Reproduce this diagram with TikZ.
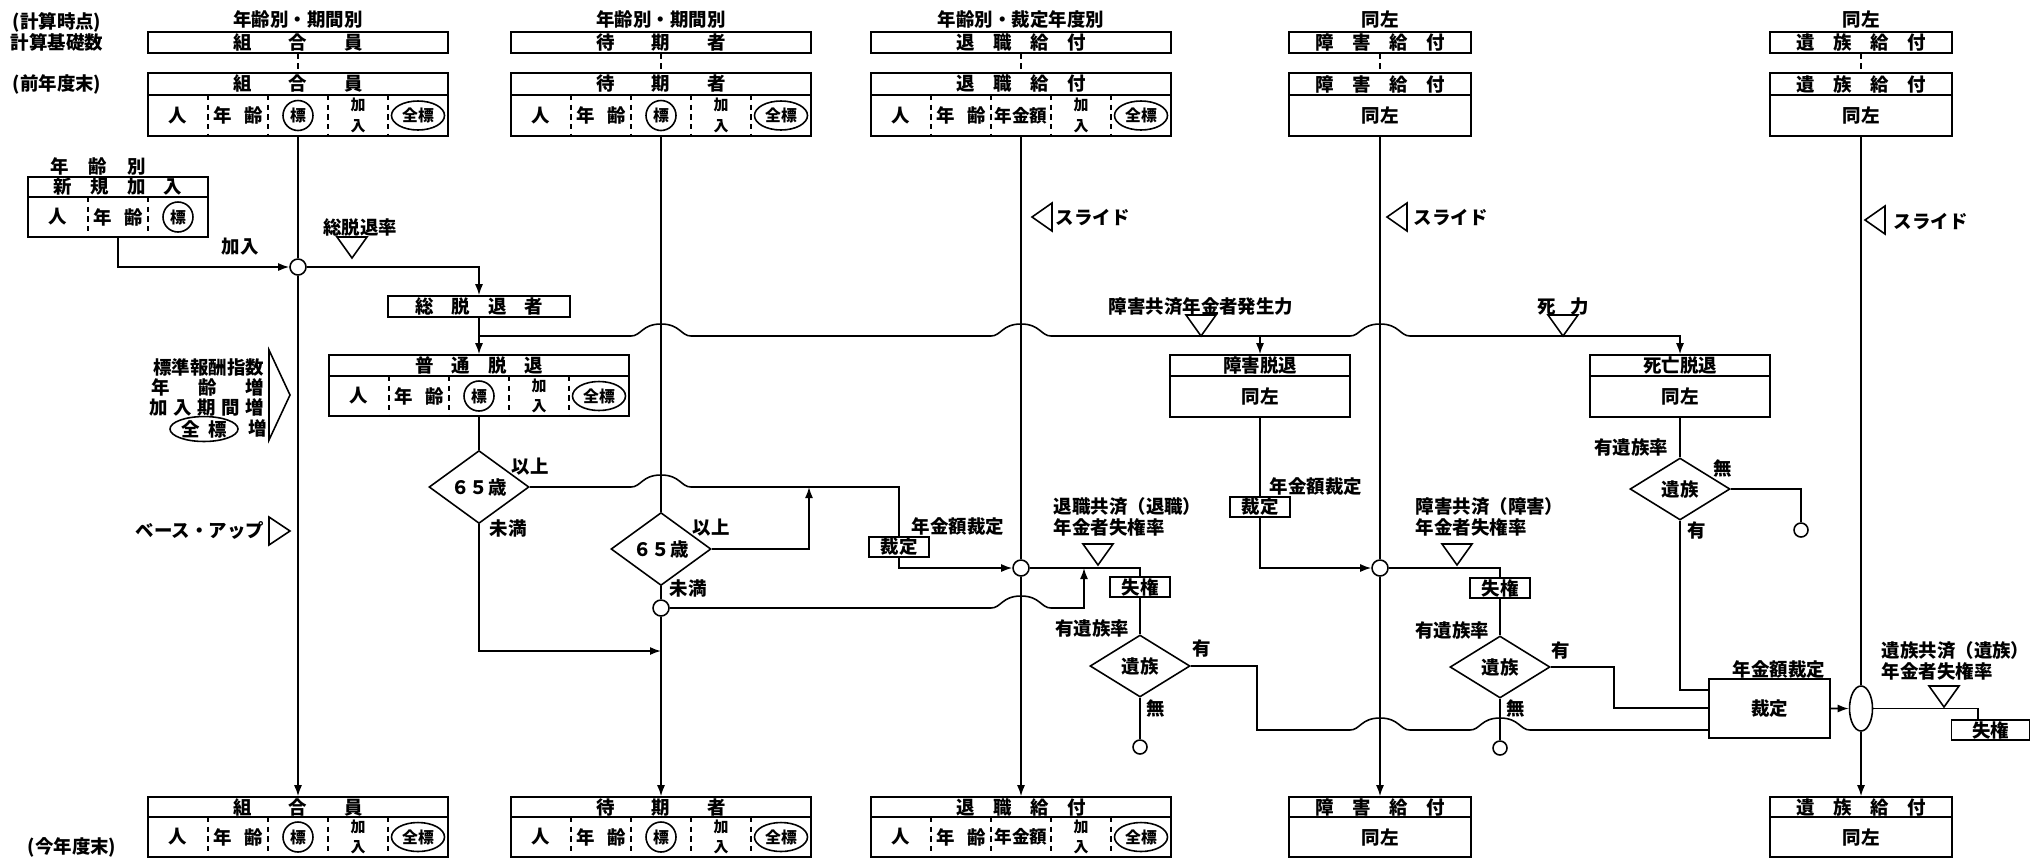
\documentclass[tikz,border=0pt]{standalone}
\usepackage{fontspec}
\setmainfont{Noto Sans CJK JP}
\usetikzlibrary{positioning, arrows.meta, shapes.geometric, fit}

\begin{document}
\begin{tikzpicture}[
  x=0.2mm, y=-0.2mm,
  font=\fontsize{10.5}{12}\selectfont\bfseries,
  line width=0.9pt,
  box/.style={draw, inner sep=0pt, fit={#1}},
  txt/.style={inner sep=0pt},
  sep/.style={line width=0.7pt, dash pattern=on 3pt off 2.5pt},
  jn/.style={circle, draw, fill=white, minimum size=3.2mm, inner sep=0pt},
  endc/.style={circle, draw, minimum size=2.8mm, inner sep=0pt},
  tag/.style={draw, minimum width=12mm, minimum height=4mm, inner sep=0pt},
  dia/.style={diamond, draw, minimum width=20mm, minimum height=12.4mm, inner sep=0pt},
  circ/.style={circle, draw, minimum size=6mm, inner sep=0pt, font=\fontsize{9}{10}\selectfont\bfseries},
  oval/.style={ellipse, draw, minimum width=10.6mm, minimum height=5.8mm, inner sep=0pt, font=\fontsize{9}{10}\selectfont\bfseries},
  small/.style={font=\fontsize{8.5}{11.5}\selectfont\bfseries, align=center, inner sep=0pt},
  >={Latex[length=2.2mm,width=1.6mm]}
]
  %% --- geometria: 1 unita' = 1 px del riferimento ---
  \useasboundingbox (0,0) rectangle (2032,858);
  \def\hop#1#2{-- ({#1-30},#2) .. controls ({#1-20},#2) and ({#1-19},{#2-12}) .. (#1,{#2-12}) .. controls ({#1+19},{#2-12}) and ({#1+20},#2) .. ({#1+30},#2)}
  \def\dtri#1#2{\draw ({#1-15},{#2-21}) -- ({#1+15},{#2-21}) -- (#1,#2) -- cycle;}
  \def\ltri#1#2{\draw (#1,#2) -- ({#1+20},{#2-14}) -- ({#1+20},{#2+14}) -- cycle;}
  \def\rtri#1#2#3{\draw (#1,#2) -- ({#1-21},{#2-#3}) -- ({#1-21},{#2+#3}) -- cycle;}

  %% --- etichette a sinistra ---
  \node[txt] (keisan) at (57,22) {(計算時点)};
  \node[txt] (kiso) at (57,42) {計算基礎数};
  \node[txt] (zennen) at (57,84) {(前年度末)};
  \node[txt] (konnen) at (72,847) {(今年度末)};

  %% --- colonne: base di calcolo, inizio e fine anno ---
  \foreach \nm/\lx/\rx/\hd/\lab in {
    kumi/148/448/{組\hfill 合\hfill 員}/{年齢別・期間別},
    taiki/511/811/{待\hfill 期\hfill 者}/{年齢別・期間別},
    taisho/871/1171/{退\hfill 職\hfill 給\hfill 付}/{年齢別・裁定年度別},
    shogai/1289/1471/{障\hfill 害\hfill 給\hfill 付}/{同左},
    izoku/1770/1952/{遺\hfill 族\hfill 給\hfill 付}/{同左}
  } {
    \pgfmathsetmacro{\cx}{(\lx+\rx)/2}
    \node[box={(\lx,32) (\rx,53)}] (\nm A) {};
    \node[txt] (\nm Ah) at (\cx,42.5) {\makebox[26mm]{\hd}};
    \node[txt, anchor=south, inner sep=1.5pt] (\nm L) at (\cx,32) {\lab};
    \node[box={(\lx,73) (\rx,136)}] (\nm B) {};
    \draw (\lx,95) -- (\rx,95);
    \node[txt] (\nm Bh) at (\cx,84) {\makebox[26mm]{\hd}};
    \node[box={(\lx,797) (\rx,857)}] (\nm C) {};
    \draw (\lx,817) -- (\rx,817);
    \node[txt] (\nm Ch) at (\cx,807) {\makebox[26mm]{\hd}};
    \draw[sep] (\nm A) -- (\nm B);
  }
  \node[txt] (shogaiBb) at (1380,115.5) {同左};
  \node[txt] (izokuBb) at (1861,115.5) {同左};
  \node[txt] (shogaiCb) at (1380,837) {同左};
  \node[txt] (izokuCb) at (1861,837) {同左};

  %% --- celle: persone, eta', stipendio, anzianita', totale ---
  \foreach \lx/\ty/\by/\kind [count=\n] in {148/95/136/0, 511/95/136/0, 871/95/136/1,
      148/817/857/0, 511/817/857/0, 871/817/857/1, 329/376/416/0} {
    \pgfmathsetmacro{\my}{(\ty+\by)/2}
    \foreach \k in {1,...,4}
      \draw[sep] ({\lx+60*\k},\ty) -- ({\lx+60*\k},\by);
    \node[txt] (hito\n) at ({\lx+30},\my) {人};
    \node[txt] (nen\n) at ({\lx+90},\my) {\makebox[10mm]{年\hfill 齢}};
    \ifnum\kind=0
      \node[circ] (hyo\n) at ({\lx+150},\my) {標};
    \else
      \node[txt, font=\fontsize{10}{12}\selectfont\bfseries] (kin\n) at ({\lx+150},\my) {年金額};
    \fi
    \node[small] (kanyu\n) at ({\lx+210},\my) {加\\入};
    \node[oval] (zen\n) at ({\lx+270},\my) {全標};
  }

  %% --- nuovi iscritti ---
  \node[txt] (nenrei) at (98,166) {\makebox[19mm]{年\hfill 齢\hfill 別}};
  \node[box={(28,177) (208,237)}] (shinki) {};
  \draw (28,197) -- (208,197);
  \node[txt] (shinkih) at (118,187) {\makebox[25.6mm]{新\hfill 規\hfill 加\hfill 入}};
  \draw[sep] (88,197) -- (88,237);
  \draw[sep] (148,197) -- (148,237);
  \node[txt] (shito) at (58,217) {人};
  \node[txt] (snen) at (118,217) {\makebox[10mm]{年\hfill 齢}};
  \node[circ] (shyo) at (178,217) {標};
  \node[txt] (kanyuL) at (240,247) {加入};

  %% --- uscite ---
  \node[jn] (j1) at (298,267) {};
  \node[txt] (sorate) at (360,227) {総脱退率};
  \dtri{352}{258}
  \node[box={(388,296) (570,317)}] (sdt) {};
  \node[txt] (sdth) at (479,306.5) {\makebox[25.6mm]{総\hfill 脱\hfill 退\hfill 者}};
  \node[box={(329,355) (629,416)}] (fsd) {};
  \draw (329,376) -- (629,376);
  \node[txt] (fsdh) at (479,365.5) {\makebox[25.6mm]{普\hfill 通\hfill 脱\hfill 退}};
  \node[box={(1170,355) (1350,417)}] (shotai) {};
  \draw (1170,376) -- (1350,376);
  \node[txt] (shotaih) at (1260,365.5) {障害脱退};
  \node[txt] (shotaib) at (1260,396.5) {同左};
  \node[box={(1590,355) (1770,417)}] (sibou) {};
  \draw (1590,376) -- (1770,376);
  \node[txt] (sibouh) at (1680,365.5) {死亡脱退};
  \node[txt] (siboub) at (1680,396.5) {同左};
  \node[txt] (hasseiL) at (1201,307) {障害共済年金者発生力};
  \dtri{1201}{336}
  \node[txt] (shiryoku) at (1563,307) {\makebox[10.4mm]{死\hfill 力}};
  \dtri{1563}{336}

  %% --- fattori a sinistra ---
  \node[txt, anchor=east] (hyojun) at (265,367) {標準報酬指数};
  \node[txt, anchor=east] (nenzo) at (265,387) {\makebox[22.6mm]{年\hfill 齢\hfill 増}};
  \node[txt, anchor=east] (kikan) at (265,407) {\makebox[23mm]{加\hfill 入\hfill 期\hfill 間\hfill 増}};
  \node[ellipse, draw, minimum width=13.6mm, minimum height=4.8mm, inner sep=0pt] (zenhyo) at (204,429) {\makebox[9mm]{全\hfill 標}};
  \node[txt] (zenzo) at (258,428) {増};
  \rtri{290}{395}{45}
  \node[txt, anchor=east] (baseup) at (265,530) {ベース・アップ};
  \rtri{290}{531}{14}

  %% --- rivalutazione ---
  \ltri{1032}{217}
  \node[txt, anchor=west] (slide3) at (1055,217) {スライド};
  \ltri{1387}{217}
  \node[txt, anchor=west] (slide4) at (1413,217) {スライド};
  \ltri{1865}{220}
  \node[txt, anchor=west] (slide5) at (1893,221) {スライド};

  %% --- decisioni ---
  \node[dia] (d1) at (479,487) {６５歳};
  \node[dia] (d2) at (661,549) {６５歳};
  \node[dia] (d3) at (1140,666) {遺族};
  \node[dia] (d4) at (1500,667) {遺族};
  \node[dia] (d5) at (1680,489) {遺族};
  \node[txt] (ijo1) at (530,467) {以上};
  \node[txt] (miman1) at (508,528) {未満};
  \node[txt] (ijo2) at (711,528) {以上};
  \node[txt] (miman2) at (688,588) {未満};

  \node[jn] (j2) at (661,608) {};
  \node[jn] (j3) at (1021,568) {};
  \node[jn] (j4) at (1380,568) {};
  \node[tag] (t1) at (899,547) {裁定};
  \node[tag] (t3) at (1260,507) {裁定};
  \node[tag] (t2) at (1140,587) {失権};
  \node[tag] (t4) at (1500,588) {失権};
  \node[tag, minimum width=15.6mm] (t5) at (1990.5,730) {失権};
  \node[txt] (saitei1) at (958,527) {年金額裁定};
  \node[txt] (saitei3) at (1316,487) {年金額裁定};
  \node[txt] (saitei5) at (1779,670) {年金額裁定};
  \node[box={(1709,679) (1830,738)}] (kbox) {};
  \node[txt] (kboxt) at (kbox.center) {裁定};
  \node[ellipse, draw, minimum width=4.6mm, minimum height=9mm, inner sep=0pt] (el) at (1861,708.5) {};

  \node[endc] (e3) at (1140,747) {};
  \node[endc] (e4) at (1500,748) {};
  \node[endc] (e5) at (1801,530) {};

  \node[txt, anchor=west, align=left] (shitsu3) at (1053,517) {退職共済（退職）\\年金者失権率};
  \dtri{1098}{565}
  \node[txt, anchor=west, align=left] (shitsu4) at (1415,517) {障害共済（障害）\\年金者失権率};
  \dtri{1457}{565}
  \node[txt, anchor=west, align=left] (shitsu5) at (1881,661) {遺族共済（遺族）\\年金者失権率};
  \dtri{1944}{707}

  \node[txt] (yu3) at (1092,628) {有遺族率};
  \node[txt] (yu4) at (1452,630) {有遺族率};
  \node[txt] (yu5) at (1631,447) {有遺族率};
  \node[txt] (ari3) at (1202,648) {有};
  \node[txt] (nashi3) at (1156,708) {無};
  \node[txt] (ari4) at (1561,650) {有};
  \node[txt] (nashi4) at (1516,708) {無};
  \node[txt] (nashi5) at (1723,468) {無};
  \node[txt] (ari5) at (1697,530) {有};

  %% --- punti d'appoggio ---
  \coordinate (brk) at (479,336);
  \coordinate (m1) at (809,487);
  \coordinate (m2) at (661,651);
  \coordinate (m3) at (1084,568);
  \coordinate (c3) at (1257,730);
  \coordinate (c4) at (1614,708);
  \coordinate (k1) at (1709,690);
  \coordinate (k2) at (1709,708);
  \coordinate (k3) at (1709,730);
  \coordinate (t5in) at (1978,720);

  %% --- linee verticali delle colonne ---
  \draw (kumiB) -- (j1);
  \draw[->] (j1) -- (kumiC);
  \draw (taikiB) -- (d2);
  \draw (d2) -- (j2);
  \draw[->] (j2) -- (taikiC);
  \draw (taishoB) -- (j3);
  \draw[->] (j3) -- (taishoC);
  \draw (shogaiB) -- (j4);
  \draw[->] (j4) -- (shogaiC);
  \draw (izokuB) -- (el);
  \draw[->] (el) -- (izokuC);

  %% --- flussi ---
  \draw[->] (shinki) |- (j1);
  \draw[->] (j1) -| (sdt);
  \draw[->] (sdt) -- (fsd);
  \draw[->] (brk) \hop{661}{336} \hop{1021}{336} \hop{1380}{336} -| (sibou);
  \draw[->] (shotai.north |- brk) -- (shotai);
  \draw (fsd) -- (d1);
  \draw (d1) \hop{661}{487} -| (t1);
  \draw[->] (t1) |- (j3);
  \draw[->] (d1) |- (m2);
  \draw[->] (d2) -| (m1);
  \draw[->] (j2) \hop{1021}{608} -| (m3);
  \draw (j3) -| (t2);
  \draw (t2) -- (d3);
  \draw (d3) -| (c3) \hop{1380}{730} \hop{1500}{730} -- (k3);
  \draw (d3) -- (e3);
  \draw (shotai) -- (t3);
  \draw[->] (t3) |- (j4);
  \draw (j4) -| (t4);
  \draw (t4) -- (d4);
  \draw (d4) -| (c4) -- (k2);
  \draw (d4) -- (e4);
  \draw (sibou) -- (d5);
  \draw (d5) -| (e5);
  \draw (d5) |- (k1);
  \draw[->] (kbox) -- (el);
  \draw (el) -| (t5in);
\end{tikzpicture}
\end{document}
